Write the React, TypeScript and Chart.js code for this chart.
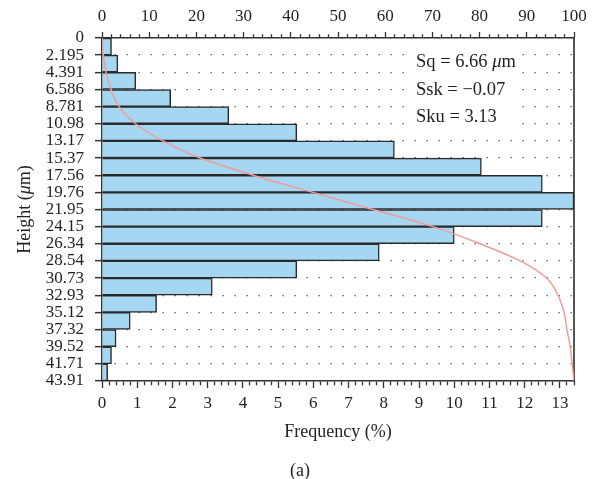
import React, { useEffect, useRef } from 'react';
import { Chart, registerables } from 'chart.js';

Chart.register(...registerables);

// ---- data ----
const heightEdges = [0, 2.195, 4.391, 6.586, 8.781, 10.98, 13.17, 15.37, 17.56, 19.76, 21.95, 24.15, 26.34, 28.54, 30.73, 32.93, 35.12, 37.32, 39.52, 41.71, 43.91];
const heightLabels = ['0', '2.195', '4.391', '6.586', '8.781', '10.98', '13.17', '15.37', '17.56', '19.76', '21.95', '24.15', '26.34', '28.54', '30.73', '32.93', '35.12', '37.32', '39.52', '41.71', '43.91'];
const frequency = [0.27, 0.45, 0.96, 1.95, 3.6, 5.53, 8.3, 10.77, 12.5, 13.4, 12.5, 10.0, 7.87, 5.53, 3.13, 1.55, 0.8, 0.4, 0.27, 0.16];
const cumulative = [0, 0.3, 0.85, 1.9, 3.6, 7.1, 12.9, 20.8, 32.0, 44.7, 57.4, 70.1, 80.1, 88.6, 94.2, 96.6, 97.9, 98.5, 99.2, 99.6, 100];
const statLines = [
  ['Sq = 6.66 ', 'μ', 'm'],
  ['Ssk = −0.07'],
  ['Sku = 3.13'],
];
const freqMax = 13.4;
const cumMax = 100;

const FONT = "'Liberation Serif', 'DejaVu Serif', serif";
const TEXT = '#231f20';

const overlayPlugin = {
  id: 'overlay',
  beforeDatasetsDraw(chart: any) {
    const ctx = chart.ctx;
    ctx.save();
    ctx.fillStyle = '#ffffff';
    ctx.fillRect(404, 46, 118, 86);
    ctx.restore();
  },
  afterDraw(chart: any) {
    const ctx = chart.ctx;
    ctx.save();
    ctx.fillStyle = TEXT;
    ctx.textBaseline = 'middle';
    ctx.textAlign = 'left';
    const ys = [62, 90, 117];
    statLines.forEach((parts, li) => {
      let x = 416;
      parts.forEach((p) => {
        ctx.font = (p === 'μ' ? 'italic ' : '') + '18.5px ' + FONT;
        ctx.fillText(p, x, ys[li]);
        x += ctx.measureText(p).width;
      });
    });
    // y axis title with italic mu
    const parts = ['Height (', 'μ', 'm)'];
    const widths = parts.map((p) => {
      ctx.font = (p === 'μ' ? 'italic ' : '') + '18px ' + FONT;
      return ctx.measureText(p).width;
    });
    const total = widths.reduce((a, b) => a + b, 0);
    ctx.translate(25, (chart.chartArea.top + chart.chartArea.bottom) / 2);
    ctx.rotate(-Math.PI / 2);
    let x = -total / 2;
    parts.forEach((p, i) => {
      ctx.font = (p === 'μ' ? 'italic ' : '') + '18px ' + FONT;
      ctx.fillText(p, x, 0);
      x += widths[i];
    });
    ctx.restore();
    ctx.save();
    ctx.fillStyle = TEXT;
    ctx.font = '18px ' + FONT;
    ctx.textAlign = 'center';
    ctx.textBaseline = 'middle';
    ctx.fillText('(a)', 300, 471);
    ctx.restore();
  },
};

const isMajor = (v: number, step: number) => Math.abs(v / step - Math.round(v / step)) < 1e-6;

export default function App() {
  const ref = useRef<HTMLCanvasElement | null>(null);
  useEffect(() => {
    if (!ref.current) return;
    Chart.defaults.font.family = FONT;
    Chart.defaults.font.size = 17;
    Chart.defaults.color = TEXT;
    const centers = frequency.map((_, i) => (heightEdges[i] + heightEdges[i + 1]) / 2);
    const chart = new Chart(ref.current, {
      type: 'bar',
      data: {
        datasets: [
          {
            type: 'line',
            data: heightEdges.map((h, i) => ({ x: cumulative[i], y: h })),
            xAxisID: 'x2',
            yAxisID: 'y',
            borderColor: '#f29b9b',
            borderWidth: 1.5,
            pointRadius: 0,
            fill: false,
            cubicInterpolationMode: 'monotone',
            indexAxis: 'y',
            order: 0,
          } as any,
          {
            type: 'bar',
            data: frequency.map((f, i) => ({ x: f, y: centers[i] })),
            xAxisID: 'x',
            yAxisID: 'y',
            backgroundColor: '#a5d6f2',
            borderColor: '#2a2a2a',
            borderWidth: 1.5,
            barPercentage: 1,
            categoryPercentage: 1,
            indexAxis: 'y',
            order: 1,
          } as any,
        ],
      },
      options: {
        indexAxis: 'y',
        responsive: false,
        animation: false,
        devicePixelRatio: 1,
        layout: { padding: { left: 0, right: 21, top: 0, bottom: 0 } },
        plugins: { legend: { display: false }, tooltip: { enabled: false } },
        scales: {
          y: {
            type: 'linear',
            position: 'left',
            reverse: true,
            min: 0,
            max: 43.91,
            offset: false,
            afterBuildTicks: (scale: any) => {
              scale.ticks = heightEdges.map((v) => ({ value: v }));
            },
            afterFit: (scale: any) => {
              scale.width = 102;
            },
            ticks: {
              autoSkip: false,
              padding: 11,
              color: TEXT,
              font: { size: 17, family: FONT },
              callback: (_v: any, i: number) => heightLabels[i] ?? '',
            },
            grid: {
              display: true,
              drawOnChartArea: true,
              offset: false,
              color: '#4a4a4a',
              lineWidth: 1.3,
              tickLength: 7,
              tickColor: '#333',
              tickWidth: 1.5,
              tickBorderDash: [],
            },
            border: { display: true, color: '#333', width: 1.5, dash: [1.3, 10.7] },
          },
          yR: {
            type: 'linear',
            position: 'right',
            min: 0,
            max: 1,
            afterFit: (scale: any) => {
              scale.width = 0;
            },
            ticks: { display: false },
            grid: { display: false, drawTicks: false },
            border: { display: true, color: '#555', width: 2 },
          },
          x: {
            type: 'linear',
            position: 'bottom',
            min: 0,
            max: freqMax,
            offset: false,
            afterBuildTicks: (scale: any) => {
              const t: any[] = [];
              for (let i = 0; i <= Math.round(freqMax * 5); i++) t.push({ value: i / 5 });
              scale.ticks = t;
            },
            afterFit: (scale: any) => {
              scale.height = 98;
            },
            ticks: {
              autoSkip: false,
              maxRotation: 0,
              minRotation: 0,
              padding: 5,
              color: TEXT,
              font: { size: 17, family: FONT },
              callback: (v: any) => (isMajor(v, 1) ? String(Math.round(v)) : ''),
            },
            grid: {
              display: true,
              drawOnChartArea: false,
              offset: false,
              tickLength: 7,
              tickColor: '#333',
              tickWidth: 1.3,
              tickBorderDash: (c: any) => (isMajor(c.tick.value, 1) ? [] : [3.8, 20]),
            },
            border: { display: true, color: '#333', width: 1.5 },
            title: {
              display: true,
              text: 'Frequency (%)',
              color: TEXT,
              font: { size: 18, family: FONT },
              padding: { top: 0, bottom: 36 },
            },
          },
          x2: {
            type: 'linear',
            position: 'top',
            min: 0,
            max: cumMax,
            offset: false,
            afterBuildTicks: (scale: any) => {
              const t: any[] = [];
              for (let i = 0; i <= cumMax / 2; i++) t.push({ value: i * 2 });
              scale.ticks = t;
            },
            afterFit: (scale: any) => {
              scale.height = 38;
            },
            ticks: {
              autoSkip: false,
              maxRotation: 0,
              minRotation: 0,
              padding: 5,
              color: TEXT,
              font: { size: 17, family: FONT },
              callback: (v: any) => (isMajor(v, 10) ? String(Math.round(v)) : ''),
            },
            grid: {
              display: true,
              drawOnChartArea: false,
              offset: false,
              tickLength: 6,
              tickColor: '#333',
              tickWidth: 1.3,
              tickBorderDash: (c: any) => (isMajor(c.tick.value, 10) ? [] : [0, 2.2, 3.8, 20]),
            },
            border: { display: true, color: '#333', width: 1.5 },
          },
        },
      } as any,
      plugins: [overlayPlugin],
    });
    return () => chart.destroy();
  }, []);
  return (
    <div style={{ position: 'absolute', left: 0, top: 0, width: 595, height: 479, background: '#fff' }}>
      <canvas ref={ref} width={595} height={479} style={{ display: 'block' }} />
    </div>
  );
}
